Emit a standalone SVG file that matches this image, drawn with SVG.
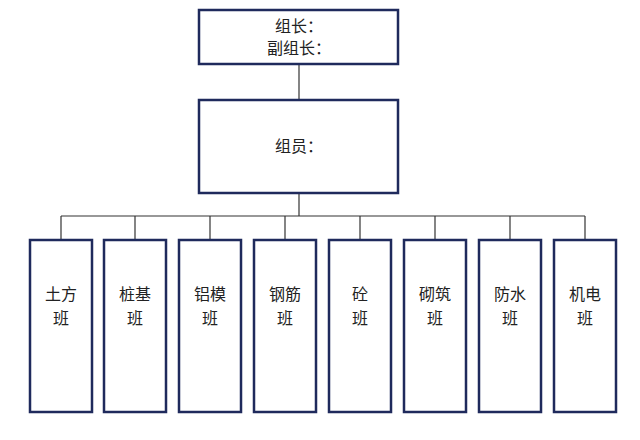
<svg xmlns="http://www.w3.org/2000/svg" width="640" height="440" viewBox="0 0 640 440">
<style>
rect{fill:#fff;stroke:#1f2a5c;stroke-width:2.5}
line{stroke:#333;stroke-width:1.2}
text{font-family:"Noto Sans CJK SC",sans-serif;font-size:16px;fill:#222;text-anchor:middle}
</style>
<rect x="0" y="0" width="640" height="440" style="stroke:none"/>
<g id="connectors">
<line x1="299" y1="64" x2="299" y2="100"/>
<line x1="299" y1="193" x2="299" y2="216"/>
<line x1="61" y1="216" x2="585" y2="216"/>
<line x1="61" y1="216" x2="61" y2="240"/>
<line x1="135" y1="216" x2="135" y2="240"/>
<line x1="210" y1="216" x2="210" y2="240"/>
<line x1="285" y1="216" x2="285" y2="240"/>
<line x1="360" y1="216" x2="360" y2="240"/>
<line x1="435" y1="216" x2="435" y2="240"/>
<line x1="510" y1="216" x2="510" y2="240"/>
<line x1="585" y1="216" x2="585" y2="240"/>
</g>
<g id="leader"><rect x="199" y="10" width="199" height="54"/><text x="299" y="32">组长：</text><text x="299" y="54">副组长：</text></g>
<g id="members"><rect x="199" y="100" width="199" height="93"/><text x="299" y="152">组员：</text></g>
<g id="n1"><rect x="30" y="240" width="62" height="172"/><text x="61" y="300">土方</text><text x="61" y="324">班</text></g>
<g id="n2"><rect x="104" y="240" width="62" height="172"/><text x="135" y="300">桩基</text><text x="135" y="324">班</text></g>
<g id="n3"><rect x="179" y="240" width="62" height="172"/><text x="210" y="300">铝模</text><text x="210" y="324">班</text></g>
<g id="n4"><rect x="254" y="240" width="62" height="172"/><text x="285" y="300">钢筋</text><text x="285" y="324">班</text></g>
<g id="n5"><rect x="329" y="240" width="62" height="172"/><text x="360" y="300">砼</text><text x="360" y="324">班</text></g>
<g id="n6"><rect x="404" y="240" width="62" height="172"/><text x="435" y="300">砌筑</text><text x="435" y="324">班</text></g>
<g id="n7"><rect x="479" y="240" width="62" height="172"/><text x="510" y="300">防水</text><text x="510" y="324">班</text></g>
<g id="n8"><rect x="554" y="240" width="62" height="172"/><text x="585" y="300">机电</text><text x="585" y="324">班</text></g>
</svg>
